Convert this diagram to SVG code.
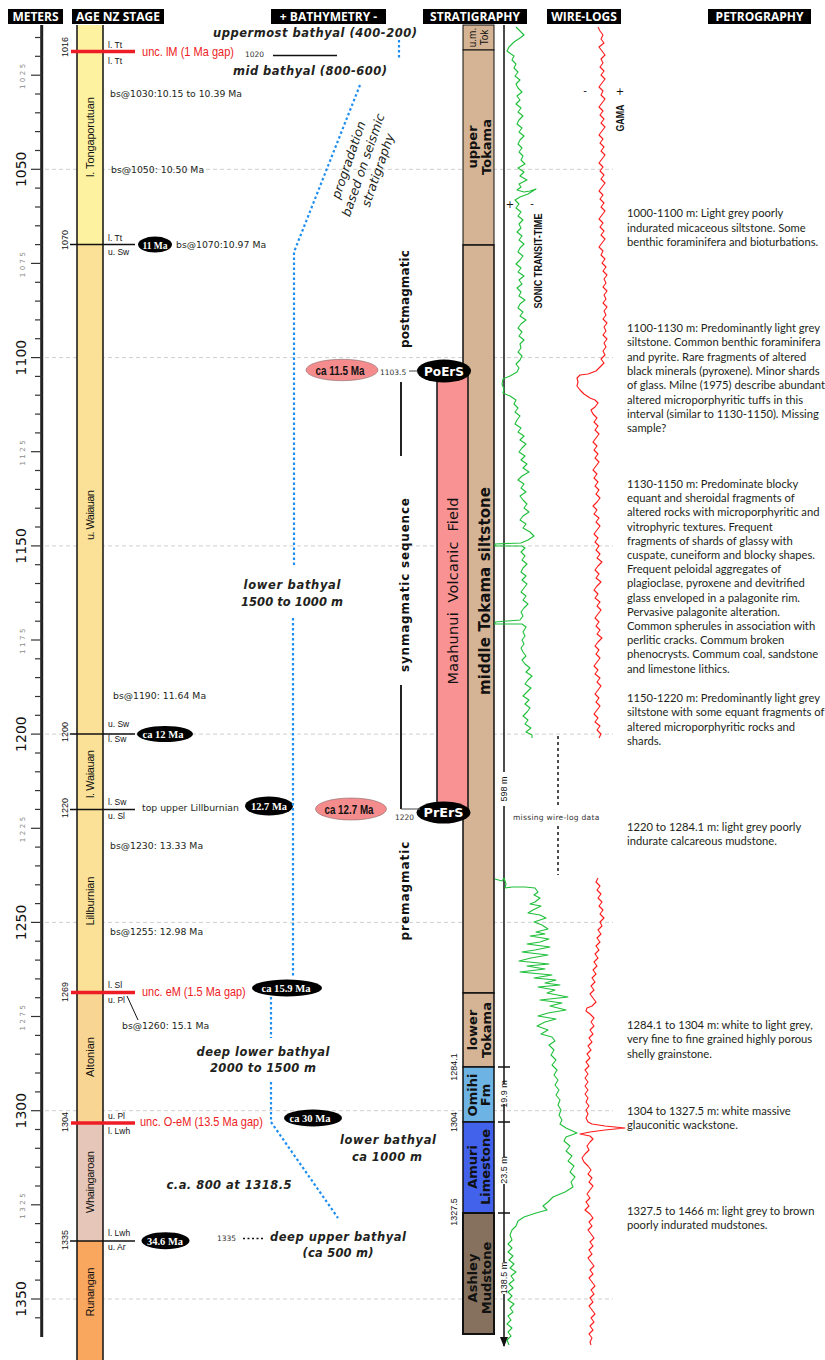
<svg xmlns="http://www.w3.org/2000/svg" width="825" height="1360" viewBox="0 0 825 1360">
<style>
.hdr{fill:#000}
.hdrt{fill:#fff;font:bold 12px "Open Sans",sans-serif;text-anchor:middle}
.guide{stroke:#cfcfcf;stroke-width:1;stroke-dasharray:4 3}
.tick{stroke:#333;stroke-width:1.2}
.maj{font:14px "DejaVu Sans",sans-serif;fill:#111;text-anchor:middle}
.min{font:7px "DejaVu Sans",sans-serif;fill:#888;text-anchor:middle;letter-spacing:2.5px}
.bl{font:9px "Liberation Sans",sans-serif;fill:#111;text-anchor:middle}
.sm{font:8.5px "Liberation Sans",sans-serif;fill:#111}
.bs{font:9.3px "DejaVu Sans",sans-serif;fill:#231f20}
.stage{font:11px "Liberation Sans",sans-serif;fill:#111;text-anchor:middle}
.unc{font:13px "Liberation Sans",sans-serif;fill:#ee1c24}
.bath{font:bold italic 11.5px "DejaVu Sans",sans-serif;fill:#231f20;text-anchor:middle}
.prog{font:italic 12.5px "DejaVu Sans",sans-serif;fill:#231f20;text-anchor:middle}
.seq{font:bold 12px "DejaVu Sans",sans-serif;fill:#111;text-anchor:middle}
.strat{font:bold 13px "DejaVu Sans",sans-serif;fill:#111;text-anchor:middle}
.petro{font:11.2px Lato,sans-serif;fill:#231f20}
.ell{fill:#000}
.ellt{font:bold 11px "Liberation Serif",serif;fill:#fff;text-anchor:middle}
.pell{fill:#f48c8d;stroke:#8a6a6a;stroke-width:0.6}
.pellt{font:600 13px "Liberation Sans",sans-serif;fill:#111;text-anchor:middle}
.erst{font:bold 12px "DejaVu Sans",sans-serif;fill:#fff;text-anchor:middle}
.blue{fill:none;stroke:#1e8ff0;stroke-width:2.2;stroke-dasharray:2.5 2.5}
.blk{stroke:#111;stroke-width:1.5;fill:none}
.redl{stroke:#ee1c24;stroke-width:3.5}
.tiny{font:7.5px "DejaVu Sans",sans-serif;fill:#333}
.green{fill:none;stroke:#1fbf3a;stroke-width:1.1;stroke-linejoin:round}
.redc{fill:none;stroke:#ff1a1a;stroke-width:1.1;stroke-linejoin:round}
</style>
<defs>
<marker id="arr" viewBox="0 0 10 10" refX="9" refY="5" markerWidth="7" markerHeight="9" orient="auto"><path d="M0,1 L10,5 L0,9 Z" fill="#111"/></marker>
</defs>
<rect width="825" height="1360" fill="#fff"/>

<!-- guides -->
<g id="guides">
<line class="guide" x1="45" y1="169.3" x2="613" y2="169.3"/>
<line class="guide" x1="45" y1="357.6" x2="613" y2="357.6"/>
<line class="guide" x1="45" y1="545.9" x2="613" y2="545.9"/>
<line class="guide" x1="45" y1="734.1" x2="613" y2="734.1"/>
<line class="guide" x1="45" y1="922.4" x2="613" y2="922.4"/>
<line class="guide" x1="45" y1="1110.7" x2="613" y2="1110.7"/>
<line class="guide" x1="45" y1="1299" x2="613" y2="1299"/>
</g>

<!-- headers -->
<g id="headers">
<g id="h-meters"><rect class="hdr" x="8" y="9" width="55" height="15"/><text class="hdrt" x="35.5" y="21">METERS</text></g>
<g id="h-age"><rect class="hdr" x="72" y="9" width="92" height="15"/><text class="hdrt" x="118" y="21">AGE NZ STAGE</text></g>
<g id="h-bathy"><rect class="hdr" x="271" y="9" width="115" height="15"/><text class="hdrt" x="328.5" y="21">+ BATHYMETRY -</text></g>
<g id="h-strat"><rect class="hdr" x="423" y="9" width="104" height="15"/><text class="hdrt" x="475" y="21">STRATIGRAPHY</text></g>
<g id="h-wire"><rect class="hdr" x="547" y="9" width="74" height="15"/><text class="hdrt" x="584" y="21">WIRE-LOGS</text></g>
<g id="h-petro"><rect class="hdr" x="708" y="9" width="103" height="15"/><text class="hdrt" x="759.5" y="21">PETROGRAPHY</text></g>
</g>

<!-- meters axis -->
<g id="axis">
<line x1="41.7" y1="25" x2="41.7" y2="1337" stroke="#222" stroke-width="3"/>
<g>
<line class="tick" x1="35" y1="37.5" x2="42" y2="37.5"/>
<line class="tick" x1="35" y1="56.3" x2="42" y2="56.3"/>
<line class="tick" x1="31" y1="75.2" x2="42" y2="75.2"/>
<line class="tick" x1="35" y1="94" x2="42" y2="94"/>
<line class="tick" x1="35" y1="112.8" x2="42" y2="112.8"/>
<line class="tick" x1="35" y1="131.6" x2="42" y2="131.6"/>
<line class="tick" x1="35" y1="150.5" x2="42" y2="150.5"/>
<line class="tick" x1="31" y1="169.3" x2="42" y2="169.3"/>
<line class="tick" x1="35" y1="188.1" x2="42" y2="188.1"/>
<line class="tick" x1="35" y1="207" x2="42" y2="207"/>
<line class="tick" x1="35" y1="225.8" x2="42" y2="225.8"/>
<line class="tick" x1="35" y1="244.6" x2="42" y2="244.6"/>
<line class="tick" x1="31" y1="263.4" x2="42" y2="263.4"/>
<line class="tick" x1="35" y1="282.3" x2="42" y2="282.3"/>
<line class="tick" x1="35" y1="301.1" x2="42" y2="301.1"/>
<line class="tick" x1="35" y1="319.9" x2="42" y2="319.9"/>
<line class="tick" x1="35" y1="338.7" x2="42" y2="338.7"/>
<line class="tick" x1="31" y1="357.6" x2="42" y2="357.6"/>
<line class="tick" x1="35" y1="376.4" x2="42" y2="376.4"/>
<line class="tick" x1="35" y1="395.2" x2="42" y2="395.2"/>
<line class="tick" x1="35" y1="414.1" x2="42" y2="414.1"/>
<line class="tick" x1="35" y1="432.9" x2="42" y2="432.9"/>
<line class="tick" x1="31" y1="451.7" x2="42" y2="451.7"/>
<line class="tick" x1="35" y1="470.5" x2="42" y2="470.5"/>
<line class="tick" x1="35" y1="489.4" x2="42" y2="489.4"/>
<line class="tick" x1="35" y1="508.2" x2="42" y2="508.2"/>
<line class="tick" x1="35" y1="527" x2="42" y2="527"/>
<line class="tick" x1="31" y1="545.9" x2="42" y2="545.9"/>
<line class="tick" x1="35" y1="564.7" x2="42" y2="564.7"/>
<line class="tick" x1="35" y1="583.5" x2="42" y2="583.5"/>
<line class="tick" x1="35" y1="602.3" x2="42" y2="602.3"/>
<line class="tick" x1="35" y1="621.2" x2="42" y2="621.2"/>
<line class="tick" x1="31" y1="640" x2="42" y2="640"/>
<line class="tick" x1="35" y1="658.8" x2="42" y2="658.8"/>
<line class="tick" x1="35" y1="677.6" x2="42" y2="677.6"/>
<line class="tick" x1="35" y1="696.5" x2="42" y2="696.5"/>
<line class="tick" x1="35" y1="715.3" x2="42" y2="715.3"/>
<line class="tick" x1="31" y1="734.1" x2="42" y2="734.1"/>
<line class="tick" x1="35" y1="753" x2="42" y2="753"/>
<line class="tick" x1="35" y1="771.8" x2="42" y2="771.8"/>
<line class="tick" x1="35" y1="790.6" x2="42" y2="790.6"/>
<line class="tick" x1="35" y1="809.4" x2="42" y2="809.4"/>
<line class="tick" x1="31" y1="828.3" x2="42" y2="828.3"/>
<line class="tick" x1="35" y1="847.1" x2="42" y2="847.1"/>
<line class="tick" x1="35" y1="865.9" x2="42" y2="865.9"/>
<line class="tick" x1="35" y1="884.8" x2="42" y2="884.8"/>
<line class="tick" x1="35" y1="903.6" x2="42" y2="903.6"/>
<line class="tick" x1="31" y1="922.4" x2="42" y2="922.4"/>
<line class="tick" x1="35" y1="941.2" x2="42" y2="941.2"/>
<line class="tick" x1="35" y1="960.1" x2="42" y2="960.1"/>
<line class="tick" x1="35" y1="978.9" x2="42" y2="978.9"/>
<line class="tick" x1="35" y1="997.7" x2="42" y2="997.7"/>
<line class="tick" x1="31" y1="1016.5" x2="42" y2="1016.5"/>
<line class="tick" x1="35" y1="1035.4" x2="42" y2="1035.4"/>
<line class="tick" x1="35" y1="1054.2" x2="42" y2="1054.2"/>
<line class="tick" x1="35" y1="1073" x2="42" y2="1073"/>
<line class="tick" x1="35" y1="1091.9" x2="42" y2="1091.9"/>
<line class="tick" x1="31" y1="1110.7" x2="42" y2="1110.7"/>
<line class="tick" x1="35" y1="1129.5" x2="42" y2="1129.5"/>
<line class="tick" x1="35" y1="1148.3" x2="42" y2="1148.3"/>
<line class="tick" x1="35" y1="1167.2" x2="42" y2="1167.2"/>
<line class="tick" x1="35" y1="1186" x2="42" y2="1186"/>
<line class="tick" x1="31" y1="1204.8" x2="42" y2="1204.8"/>
<line class="tick" x1="35" y1="1223.6" x2="42" y2="1223.6"/>
<line class="tick" x1="35" y1="1242.5" x2="42" y2="1242.5"/>
<line class="tick" x1="35" y1="1261.3" x2="42" y2="1261.3"/>
<line class="tick" x1="35" y1="1280.1" x2="42" y2="1280.1"/>
<line class="tick" x1="31" y1="1299" x2="42" y2="1299"/>
<line class="tick" x1="35" y1="1317.8" x2="42" y2="1317.8"/>
</g>
<text class="maj" transform="translate(25.5,169.3) rotate(-90)">1050</text>
<text class="maj" transform="translate(25.5,357.6) rotate(-90)">1100</text>
<text class="maj" transform="translate(25.5,545.9) rotate(-90)">1150</text>
<text class="maj" transform="translate(25.5,734.1) rotate(-90)">1200</text>
<text class="maj" transform="translate(25.5,922.4) rotate(-90)">1250</text>
<text class="maj" transform="translate(25.5,1110.7) rotate(-90)">1300</text>
<text class="maj" transform="translate(25.5,1299) rotate(-90)">1350</text>
<text class="min" transform="translate(25,75.2) rotate(-90)">1025</text>
<text class="min" transform="translate(25,263.4) rotate(-90)">1075</text>
<text class="min" transform="translate(25,451.7) rotate(-90)">1125</text>
<text class="min" transform="translate(25,640) rotate(-90)">1175</text>
<text class="min" transform="translate(25,828.3) rotate(-90)">1225</text>
<text class="min" transform="translate(25,1016.5) rotate(-90)">1275</text>
<text class="min" transform="translate(25,1204.8) rotate(-90)">1325</text>
</g>

<!-- age column -->
<g id="age-column">
<g id="st-ltongaporutuan"><rect x="77" y="25" width="26" height="219.6" fill="#fdf29f"/><text class="stage" transform="translate(94,137) rotate(-90)" textLength="80">l. Tongaporutuan</text></g>
<g id="st-uwaiauan"><rect x="77" y="244.6" width="26" height="489.5" fill="#fae197"/><text class="stage" transform="translate(94,515) rotate(-90)" textLength="50">u. Waiauan</text></g>
<g id="st-lwaiauan"><rect x="77" y="734.1" width="26" height="75.3" fill="#fae197"/><text class="stage" transform="translate(94,774) rotate(-90)" textLength="48">l. Waiauan</text></g>
<g id="st-lillburnian"><rect x="77" y="809.4" width="26" height="183" fill="#fae197"/><text class="stage" transform="translate(94,901) rotate(-90)" textLength="49">Lillburnian</text></g>
<g id="st-altonian"><rect x="77" y="992.4" width="26" height="130.6" fill="#f8d592"/><text class="stage" transform="translate(94,1057) rotate(-90)" textLength="40">Altonian</text></g>
<g id="st-whaingaroan"><rect x="77" y="1123" width="26" height="118" fill="#e6c6b8"/><text class="stage" transform="translate(94,1182) rotate(-90)" textLength="62">Whaingaroan</text></g>
<g id="st-runangan"><rect x="77" y="1241" width="26" height="119" fill="#f9a65f"/><text class="stage" transform="translate(94,1292) rotate(-90)" textLength="49">Runangan</text></g>
<line x1="77" y1="25" x2="77" y2="1360" stroke="#111" stroke-width="1.5"/>
<line x1="103" y1="25" x2="103" y2="1360" stroke="#111" stroke-width="1.5"/>
</g>

<!-- boundaries -->
<g id="boundaries">
<g id="b1016"><line class="redl" x1="71" y1="51.5" x2="135" y2="51.5"/><text class="bl" transform="translate(68,47) rotate(-90)">1016</text><text class="sm" x="108" y="48">l. Tt</text><text class="sm" x="108" y="64">l. Tt</text><text class="unc" transform="translate(142,56) scale(0.85,1)">unc. lM (1 Ma gap)</text></g>
<g id="b1070"><line class="blk" x1="70" y1="244.6" x2="135" y2="244.6"/><text class="bl" transform="translate(68,240) rotate(-90)">1070</text><text class="sm" x="108" y="241">l. Tt</text><text class="sm" x="108" y="255">u. Sw</text></g>
<g id="b1200"><line class="blk" x1="70" y1="734.1" x2="135" y2="734.1"/><text class="bl" transform="translate(68,732) rotate(-90)">1200</text><text class="sm" x="108" y="727">u. Sw</text><text class="sm" x="108" y="742">l. Sw</text></g>
<g id="b1220"><line class="blk" x1="70" y1="809.4" x2="135" y2="809.4"/><text class="bl" transform="translate(68,808) rotate(-90)">1220</text><text class="sm" x="108" y="805">l. Sw</text><text class="sm" x="108" y="819">u. Sl</text><text class="bs" x="142" y="811">top upper Lillburnian</text></g>
<g id="b1269"><line class="redl" x1="71" y1="992.4" x2="135" y2="992.4"/><text class="bl" transform="translate(68,992) rotate(-90)">1269</text><text class="sm" x="108" y="988">l. Sl</text><text class="sm" x="108" y="1003">u. Pl</text><text class="unc" transform="translate(142,996) scale(0.84,1)">unc. eM (1.5 Ma gap)</text></g>
<g id="b1304"><line class="redl" x1="71" y1="1123" x2="135" y2="1123"/><text class="bl" transform="translate(68,1122) rotate(-90)">1304</text><text class="sm" x="108" y="1119">u. Pl</text><text class="sm" x="108" y="1134">l. Lwh</text><text class="unc" transform="translate(140,1126) scale(0.847,1)">unc. O-eM (13.5 Ma gap)</text></g>
<g id="b1335"><line class="blk" x1="70" y1="1241" x2="135" y2="1241"/><text class="bl" transform="translate(68,1240) rotate(-90)">1335</text><text class="sm" x="108" y="1236">l. Lwh</text><text class="sm" x="108" y="1250">u. Ar</text></g>
</g>

<!-- biostratigraphy labels -->
<g id="bs-labels">
<text class="bs" x="110" y="97">bs@1030:10.15 to 10.39 Ma</text>
<text class="bs" x="111" y="173">bs@1050: 10.50 Ma</text>
<text class="bs" x="176" y="248">bs@1070:10.97 Ma</text>
<text class="bs" x="113" y="699">bs@1190: 11.64 Ma</text>
<text class="bs" x="110" y="849">bs@1230: 13.33 Ma</text>
<text class="bs" x="110" y="935">bs@1255: 12.98 Ma</text>
<text class="bs" x="122" y="1029">bs@1260: 15.1 Ma</text>
</g>

<!-- age ellipses -->
<g id="ages">
<g id="e-11"><ellipse class="ell" cx="155" cy="244.6" rx="17" ry="8"/><text class="ellt" x="155" y="248.5" textLength="25" lengthAdjust="spacingAndGlyphs">11 Ma</text></g>
<g id="e-12"><ellipse class="ell" cx="165" cy="734" rx="28" ry="8"/><text class="ellt" x="163" y="738" textLength="41" lengthAdjust="spacingAndGlyphs">ca 12 Ma</text></g>
<g id="e-127"><ellipse class="ell" cx="269" cy="806" rx="24" ry="9.5"/><text class="ellt" x="269" y="810" textLength="36" lengthAdjust="spacingAndGlyphs">12.7 Ma</text></g>
<g id="e-159"><ellipse class="ell" cx="287" cy="988" rx="35" ry="8.5"/><text class="ellt" x="286" y="992" textLength="49" lengthAdjust="spacingAndGlyphs">ca 15.9 Ma</text></g>
<g id="e-30"><ellipse class="ell" cx="313" cy="1118" rx="29" ry="8.5"/><text class="ellt" x="310" y="1122" textLength="41" lengthAdjust="spacingAndGlyphs">ca 30 Ma</text></g>
<g id="e-346"><ellipse class="ell" cx="165.5" cy="1240.7" rx="24" ry="8.5"/><text class="ellt" x="165" y="1244.7" textLength="36" lengthAdjust="spacingAndGlyphs">34.6 Ma</text></g>
<g id="p-115"><ellipse class="pell" cx="342" cy="370" rx="36" ry="10.7"/><text class="pellt" x="340" y="374.5" textLength="49" lengthAdjust="spacingAndGlyphs">ca 11.5 Ma</text></g>
<g id="p-127"><ellipse class="pell" cx="351" cy="809" rx="35.5" ry="11"/><text class="pellt" x="349" y="813.5" textLength="49" lengthAdjust="spacingAndGlyphs">ca 12.7 Ma</text></g>
</g>

<!-- bathymetry -->
<g id="bathymetry">
<text class="bath" x="315" y="37" textLength="204">uppermost bathyal (400-200)</text>
<text class="bath" x="310" y="75" textLength="154">mid bathyal (800-600)</text>
<text class="tiny" x="245" y="57" font-style="italic" font-size="7">1020</text>
<text class="prog" transform="translate(363,165) rotate(-71)"><tspan x="0" y="-11">progradation</tspan><tspan x="0" y="4.5">based on seismic</tspan><tspan x="0" y="20">stratigraphy</tspan></text>
<text class="bath" x="292" y="589" textLength="97">lower bathyal</text>
<text class="bath" x="292" y="606" textLength="102">1500 to 1000 m</text>
<text class="bath" x="263" y="1056" textLength="133">deep lower bathyal</text>
<text class="bath" x="263" y="1072" textLength="106">2000 to 1500 m</text>
<text class="bath" x="388" y="1144" textLength="96">lower bathyal</text>
<text class="bath" x="387" y="1161" textLength="70">ca 1000 m</text>
<text class="bath" x="229" y="1189" textLength="125">c.a. 800  at 1318.5</text>
<text class="bath" x="338" y="1241" textLength="136">deep upper bathyal</text>
<text class="bath" x="338" y="1257" textLength="71">(ca 500 m)</text>
<text class="tiny" x="217" y="1241" font-style="italic">1335</text>
<text class="seq" transform="translate(409,299) rotate(-90)" textLength="98">postmagmatic</text>
<text class="seq" transform="translate(409,585) rotate(-90)" textLength="174">synmagmatic sequence</text>
<text class="seq" transform="translate(409,891) rotate(-90)" textLength="99">premagmatic</text>
<text class="tiny" x="380" y="374.5" font-size="7">1103.5</text>
<text class="tiny" x="395" y="819.5" font-size="7">1220</text>
</g>

<!-- stratigraphy column -->
<g id="stratigraphy">
<g id="u-umtok"><rect x="463" y="25" width="31" height="25" fill="#d4b494" stroke="#111" stroke-width="1"/><text font-family="Liberation Sans,sans-serif" font-size="10" fill="#111" text-anchor="middle" transform="translate(476,37.5) rotate(-90)"><tspan x="0" y="0">u.m.</tspan><tspan x="0" y="12">Tok</tspan></text></g>
<g id="u-uppertok"><rect x="463" y="50" width="31" height="195" fill="#d4b494" stroke="#111" stroke-width="1"/><text class="strat" transform="translate(477,147) rotate(-90)"><tspan x="0" y="0">upper</tspan><tspan x="0" y="14">Tokama</tspan></text></g>
<g id="u-middletok"><rect x="463" y="245" width="31" height="748" fill="#d4b494" stroke="#111" stroke-width="1.5"/><text font-family="DejaVu Sans,sans-serif" font-size="15" font-weight="600" fill="#111" text-anchor="middle" transform="translate(490,591) rotate(-90)" textLength="208">middle Tokama siltstone</text></g>
<g id="u-maahunui"><rect x="437" y="371" width="31" height="441" fill="#f99393" stroke="#111" stroke-width="1.5"/><text font-family="DejaVu Sans,sans-serif" font-size="14.5" font-weight="500" fill="#111" text-anchor="middle" word-spacing="5" transform="translate(458,591) rotate(-90)" textLength="187">Maahunui Volcanic Field</text></g>
<g id="u-lowertok"><rect x="463" y="993" width="31" height="74" fill="#d4b494" stroke="#111" stroke-width="1.5"/><text class="strat" transform="translate(477,1030) rotate(-90)"><tspan x="0" y="0">lower</tspan><tspan x="0" y="14">Tokama</tspan></text></g>
<g id="u-omihi"><rect x="463" y="1067" width="31" height="55" fill="#6db3e4" stroke="#111" stroke-width="1.5"/><text class="strat" transform="translate(477,1095) rotate(-90)"><tspan x="0" y="0">Omihi</tspan><tspan x="0" y="13">Fm</tspan></text></g>
<g id="u-amuri"><rect x="463" y="1122" width="31" height="91" fill="#4262ec" stroke="#111" stroke-width="1.5"/><text class="strat" transform="translate(477,1167) rotate(-90)"><tspan x="0" y="0">Amuri</tspan><tspan x="0" y="13">Limestone</tspan></text></g>
<g id="u-ashley"><rect x="463" y="1213" width="31" height="121" fill="#86715e" stroke="#111" stroke-width="2"/><text class="strat" transform="translate(477,1278) rotate(-90)"><tspan x="0" y="0">Ashley</tspan><tspan x="0" y="14">Mudstone</tspan></text></g>
<text class="bl" transform="translate(457,1067) rotate(-90)" font-size="9.5">1284.1</text>
<text class="bl" transform="translate(457,1122) rotate(-90)" font-size="9.5">1304</text>
<text class="bl" transform="translate(457,1212) rotate(-90)" font-size="9.5">1327.5</text>
</g>

<!-- PoErS / PrErS -->
<g id="poers"><ellipse class="ell" cx="444" cy="371" rx="27" ry="11.5"/><text class="erst" x="444" y="375.5" textLength="40" lengthAdjust="spacingAndGlyphs">PoErS</text></g>
<g id="prers"><ellipse class="ell" cx="443.5" cy="812.5" rx="27" ry="11"/><text class="erst" x="443.5" y="817" textLength="40" lengthAdjust="spacingAndGlyphs">PrErS</text></g>

<!-- depth measure -->
<g id="thickness">
<path class="blk" stroke-width="1.2" d="M504,25 V772 M504,806 V1084 M504,1104 V1157 M504,1184 V1262 M504,1294 V1346" marker-end="url(#arr)"/>
<line class="blk" stroke-width="1.2" x1="498" y1="1067" x2="510" y2="1067"/>
<line class="blk" stroke-width="1.2" x1="498" y1="1122" x2="510" y2="1122"/>
<line class="blk" stroke-width="1.2" x1="498" y1="1213" x2="510" y2="1213"/>
<text class="bl" font-size="8" transform="translate(507,789) rotate(-90)">598 m</text>
<text class="bl" font-size="8" transform="translate(507,1094) rotate(-90)">19.9 m</text>
<text class="bl" font-size="8" transform="translate(507,1170) rotate(-90)">23.5 m</text>
<text class="bl" font-size="8" transform="translate(507,1278) rotate(-90)">138.5 m</text>
</g>

<!-- wire logs -->
<g id="wire-logs">
<text x="510" y="208" font-family="DejaVu Sans,sans-serif" font-size="10" text-anchor="middle" fill="#111">+</text>
<text x="532" y="207" font-family="DejaVu Sans,sans-serif" font-size="10" text-anchor="middle" fill="#111">-</text>
<text transform="translate(542,261) rotate(-90)" font-family="Liberation Sans,sans-serif" font-size="10" font-weight="bold" text-anchor="middle" fill="#111" textLength="95" lengthAdjust="spacingAndGlyphs">SONIC TRANSIT-TIME</text>
<text x="585" y="94" font-family="DejaVu Sans,sans-serif" font-size="10" text-anchor="middle" fill="#111">-</text>
<text x="620" y="95" font-family="DejaVu Sans,sans-serif" font-size="10" text-anchor="middle" fill="#111">+</text>
<text transform="translate(624,118) rotate(-90)" font-family="Liberation Sans,sans-serif" font-size="10" font-weight="bold" text-anchor="middle" fill="#111" textLength="27" lengthAdjust="spacingAndGlyphs">GAMA</text>
<polyline class="green" points="516,27 520,31 524,35 520,38 514,42 509,47 507,51 511,54 514,56 512,60 516,64 514,68 518,72 515,76 520,80 516,84 518,88 522,92 517,96 520,100 516,104 521,108 518,112 523,116 519,120 517,124 522,128 519,132 524,136 520,140 518,144 522,148 519,152 523,156 521,160 525,164 518,168 524,172 520,176 527,180 519,184 521,187 517,190 524,192 530,191 536,189 528,194 520,197 515,200 519,204 516,208 521,212 518,216 523,220 519,224 521,228 517,232 522,236 519,240 524,244 520,248 518,252 523,256 520,260 516,264 521,268 518,272 524,276 519,280 522,284 517,288 521,292 519,296 525,300 520,304 518,308 523,312 520,316 526,320 521,324 518,328 522,332 519,336 524,340 520,344 521,348 518,352 522,356 520,360 516,364 519,368 517,372 510,376 503,379 502,384 504,389 503,393 510,396 516,400 514,404 518,408 515,412 520,416 517,420 515,424 521,428 518,432 524,436 520,440 526,444 522,448 519,452 525,456 521,460 527,464 523,468 529,472 522,476 518,480 524,484 521,488 526,492 520,496 523,500 527,504 524,508 529,512 523,516 520,520 526,524 523,528 530,532 534,536 528,540 521,543 495,544 495,546 522,546 525,548 521,552 525,556 522,560 527,564 523,568 521,572 526,576 522,580 527,584 524,588 521,592 526,596 523,600 528,604 524,608 521,612 523,616 520,620 495,622 495,624 522,624 526,627 523,632 525,636 522,640 524,644 521,648 523,652 526,656 522,660 525,664 530,668 526,672 532,676 528,680 525,684 531,688 527,692 523,696 529,700 525,704 530,708 527,712 523,716 528,720 525,724 531,728 526,732 532,735 532,738"/>
<polyline class="green" points="495,879 502,881 504,878 506,884 505,888 512,887 525,887 535,888 538,892 534,895 540,898 535,902 530,904 541,906 533,910 528,913 540,915 546,918 534,922 542,925 548,929 536,932 545,934 530,936 549,939 540,942 527,944 550,947 535,950 522,952 548,955 531,958 519,961 549,964 527,966 545,969 520,972 552,975 534,978 556,980 545,983 560,985 538,987 555,990 547,993 568,997 540,1000 562,1003 550,1006 566,1010 548,1013 538,1016 556,1019 545,1022 537,1026 548,1030 541,1034 552,1037 555,1041 549,1045 554,1050 551,1055 556,1060 552,1065 557,1070 554,1075 558,1080 555,1085 559,1090 556,1095 560,1100 558,1105 561,1110 559,1115 562,1120 560,1124 566,1128 577,1133 566,1137 564,1141 570,1146 566,1151 572,1156 568,1161 574,1166 570,1172 575,1177 571,1182 573,1187 565,1192 553,1197 548,1202 543,1206 547,1210 536,1213 524,1217 518,1221 516,1226 512,1230 510,1235 512,1240 508,1244 512,1248 508,1252 513,1256 509,1260 514,1264 510,1268 516,1272 511,1276 514,1280 509,1284 513,1288 508,1292 512,1296 508,1300 514,1304 510,1308 513,1312 508,1316 511,1320 507,1324 512,1328 508,1332 511,1336 507,1340 509,1345"/>
<polyline class="redc" points="598,27 600,31 603,35 601,39 604,43 599,47 602,51 605,55 601,59 603,63 600,67 604,71 601,75 605,79 602,83 599,87 603,91 601,95 605,99 602,103 599,107 603,111 600,115 604,119 601,123 605,127 602,131 599,135 603,139 600,143 604,147 601,151 605,155 602,159 599,163 603,167 600,171 604,175 601,179 605,183 602,187 599,191 603,195 600,199 604,203 601,207 605,211 602,215 599,219 603,223 600,227 604,231 601,235 605,239 602,243 599,247 603,251 601,255 605,259 602,263 606,267 603,271 607,275 604,279 606,283 603,287 607,291 604,295 606,299 603,303 607,307 604,311 606,315 603,319 607,323 604,327 606,331 603,335 607,339 604,343 606,347 603,351 605,355 601,359 604,363 600,367 596,371 588,374 580,375 577,378 578,382 577,386 580,390 584,394 590,398 595,400 598,403 595,407 591,410 593,414 597,418 594,422 598,426 595,430 599,434 596,438 593,442 597,446 594,450 598,454 595,458 599,462 596,466 593,470 597,474 594,478 598,482 595,486 599,490 596,494 600,498 597,502 593,506 597,510 594,514 599,518 596,522 600,526 597,530 594,534 598,538 595,542 599,546 596,550 600,554 597,558 602,562 598,566 595,570 599,574 596,578 601,582 597,586 594,590 598,594 595,598 600,602 597,606 601,610 598,614 595,618 599,622 596,626 600,630 597,634 602,638 598,642 595,646 599,650 596,654 600,658 597,662 594,666 598,670 595,674 600,678 597,682 601,686 598,690 595,694 599,698 596,702 600,706 597,710 594,714 598,718 595,722 600,726 597,730 601,734 599,738"/>
<polyline class="redc" points="598,878 596,882 600,886 597,890 601,894 598,898 602,902 599,906 603,910 600,914 604,918 600,922 602,926 598,930 601,934 597,938 600,942 596,946 599,950 595,954 598,958 594,962 597,966 593,970 596,974 592,978 595,982 591,986 594,990 590,994 593,998 596,1002 592,1006 587,1008 586,1011 590,1014 594,1018 591,1022 594,1026 590,1030 593,1034 589,1038 592,1042 588,1046 591,1050 587,1054 590,1058 586,1062 589,1066 585,1070 588,1074 585,1078 588,1082 585,1086 588,1090 585,1094 588,1098 586,1102 589,1106 586,1110 588,1114 586,1118 588,1122 592,1124 605,1126 625,1128 605,1130 590,1132 580,1134 590,1136 593,1139 590,1142 587,1146 589,1150 585,1154 582,1158 584,1162 588,1166 591,1170 588,1174 592,1178 589,1182 593,1186 590,1190 587,1194 590,1198 586,1202 589,1206 585,1210 590,1214 593,1218 589,1222 592,1226 588,1230 591,1234 594,1238 590,1242 593,1246 589,1250 592,1254 588,1258 591,1262 594,1266 590,1270 593,1274 589,1278 592,1282 595,1286 591,1290 594,1294 590,1298 593,1302 589,1306 592,1310 595,1314 591,1318 594,1322 590,1326 593,1330 589,1334 592,1338 590,1342 591,1345"/>
<text class="tiny" x="513" y="820" font-size="8.5" letter-spacing="0.3">missing wire-log data</text>
</g>

<!-- petrography -->
<g id="petrography" class="petro">
<text x="627" y="217"><tspan x="627">1000-1100 m:  Light grey poorly</tspan><tspan x="627" dy="14.5">indurated micaceous siltstone. Some</tspan><tspan x="627" dy="14.5">benthic foraminifera and bioturbations.</tspan></text>
<text x="627" y="332"><tspan x="627">1100-1130 m: Predominantly light grey</tspan><tspan x="627" dy="14.3">siltstone. Common benthic foraminifera</tspan><tspan x="627" dy="14.3">and pyrite. Rare fragments of altered</tspan><tspan x="627" dy="14.3">black minerals (pyroxene). Minor shards</tspan><tspan x="627" dy="14.3">of glass. Milne (1975) describe abundant</tspan><tspan x="627" dy="14.3">altered microporphyritic tuffs in this</tspan><tspan x="627" dy="14.3">interval (similar to 1130-1150). Missing</tspan><tspan x="627" dy="14.3">sample?</tspan></text>
<text x="627" y="488"><tspan x="627">1130-1150 m: Predominate blocky</tspan><tspan x="627" dy="14.2">equant and sheroidal fragments of</tspan><tspan x="627" dy="14.2">altered rocks with microporphyritic and</tspan><tspan x="627" dy="14.2">vitrophyric  textures. Frequent</tspan><tspan x="627" dy="14.2">fragments of shards of glassy with</tspan><tspan x="627" dy="14.2">cuspate, cuneiform and blocky shapes.</tspan><tspan x="627" dy="14.2">Frequent peloidal aggregates of</tspan><tspan x="627" dy="14.2">plagioclase, pyroxene and devitrified</tspan><tspan x="627" dy="14.2">glass enveloped in a palagonite rim.</tspan><tspan x="627" dy="14.2">Pervasive palagonite alteration.</tspan><tspan x="627" dy="14.2">Common spherules in association with</tspan><tspan x="627" dy="14.2">perlitic cracks. Commum broken</tspan><tspan x="627" dy="14.2">phenocrysts. Commum  coal, sandstone</tspan><tspan x="627" dy="14.2">and limestone lithics.</tspan></text>
<text x="627" y="702"><tspan x="627">1150-1220 m: Predominantly light grey</tspan><tspan x="627" dy="14.3">siltstone with some equant fragments of</tspan><tspan x="627" dy="14.3">altered microporphyritic rocks and</tspan><tspan x="627" dy="14.3">shards.</tspan></text>
<text x="627" y="831"><tspan x="627">1220 to 1284.1 m: light grey poorly</tspan><tspan x="627" dy="14.2">indurate calcareous mudstone.</tspan></text>
<text x="627" y="1029"><tspan x="627">1284.1 to 1304 m: white to light grey,</tspan><tspan x="627" dy="14.3">very fine to fine grained highly porous</tspan><tspan x="627" dy="14.3">shelly grainstone.</tspan></text>
<text x="627" y="1115"><tspan x="627">1304 to 1327.5 m: white massive</tspan><tspan x="627" dy="14.3">glauconitic wackstone.</tspan></text>
<text x="627" y="1215"><tspan x="627">1327.5 to 1466 m: light grey to brown</tspan><tspan x="627" dy="14.3">poorly indurated mudstones.</tspan></text>
</g>

<!-- connectors -->
<g id="connectors">
<path class="blue" d="M399,40 V58"/>
<path class="blue" d="M360,85 L294,252 V566"/>
<path class="blue" d="M293,618 V976"/>
<path class="blue" d="M271,997 V1038"/>
<path class="blue" d="M271,1082 V1122 L338,1218"/>
<line class="blk" x1="273" y1="55.5" x2="337" y2="55.5"/>
<line x1="243" y1="1238.5" x2="263" y2="1238.5" stroke="#111" stroke-width="1.3" stroke-dasharray="2 2.5"/>
<line x1="401" y1="382" x2="401" y2="456" stroke="#222" stroke-width="2"/>
<line x1="401" y1="685" x2="401" y2="809" stroke="#222" stroke-width="2"/>
<line x1="409" y1="371" x2="417" y2="371" stroke="#666" stroke-width="1.2"/>
<line x1="401" y1="809" x2="420" y2="809" stroke="#666" stroke-width="1.2"/>
<line x1="127" y1="996" x2="138" y2="1020" stroke="#111" stroke-width="1"/>
<path d="M558,736 V806 M558,826 V875" stroke="#222" stroke-width="1.6" stroke-dasharray="3 3" fill="none"/>
</g>
</svg>
